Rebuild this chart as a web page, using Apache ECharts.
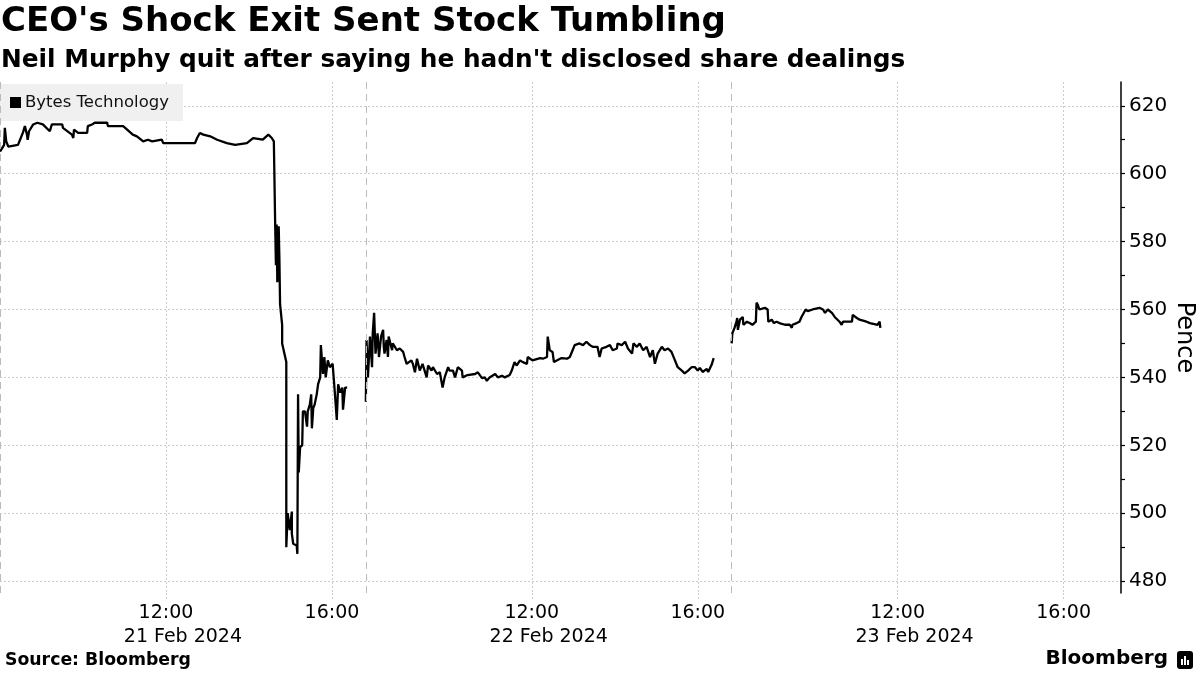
<!DOCTYPE html>
<html><head><meta charset="utf-8">
<script src="https://cdn.jsdelivr.net/npm/echarts@6/dist/echarts.min.js"></script>
<style>html,body{margin:0;padding:0;background:#fff}#c{width:1200px;height:675px}</style>
</head><body><div id="c"></div><script>
const titleText = "CEO's Shock Exit Sent Stock Tumbling";
const subtitleText = "Neil Murphy quit after saying he hadn't disclosed share dealings";
const sourceText = "Source: Bloomberg";
const seriesName = "Bytes Technology";
const yAxisName = "Pence";
const dayLabels = ["21 Feb 2024", "22 Feb 2024", "23 Feb 2024"];
// x values: minutes since 08:00 within each trading day; days are placed back to back
const dayLengthMin = 529;
const axisMaxMin = 1621;
const hourTickMinutes = [240, 480];
const hourTickLabels = ["12:00", "16:00"];
const yMin = 476.5, yMax = 627;
const yLabelValues = [480, 500, 520, 540, 560, 580, 600, 620];
const yTickValues = [480, 490, 500, 510, 520, 530, 540, 550, 560, 570, 580, 590, 600, 610, 620];

const day0Min = [0,6,7,9,12,26,29,33,36,39,40,42,48,54,62,72,75,90,91,104,106,107,113,126,127,133,137,155,156,178,181,192,198,207,214,220,234,236,282,285,289,294,304,314,328,340,357,366,380,388,393,396,398,399,400,401,403,404,405,408,408,414,414,414,416,419,422,422,424,429,430,431,432,434,437,438,441,444,445,448,450,451,453,455,458,460,463,464,467,469,471,474,477,481,484,487,489,492,495,496,499,502];
const day0Price = [606.5,608.5,613.5,609.5,608,608.5,610,612,614,611.5,610,612.5,614.5,615,614.5,612.5,614.5,614.5,613.5,611.5,610.5,613,612,612,614,614.5,615,615,614,614,613.5,611.5,611,609.5,610,609.5,610,609,609,610.5,612,611.5,611,610,609,608.5,609,610.5,610,611.5,610.5,609.5,584,573,585,568,584.5,575,561.5,555.5,550,544.5,542,490,500,495,500.5,494,491,490.5,488,535,512,519.5,520,530,530,525.5,530,532,535,525,531,532,535,538,540,549.5,541,546,540,545,543,544,536,527.5,538,535.5,537,530.5,537,537];

const day1Min = [0,1,1,3,6,9,10,12,14,17,19,22,25,26,27,30,32,33,38,39,45,49,54,56,59,66,68,71,74,78,82,88,90,95,97,103,107,111,114,119,121,126,129,133,139,140,147,158,162,168,172,175,179,187,191,197,201,208,211,215,218,223,227,233,234,241,252,256,262,263,266,270,272,276,283,291,295,299,302,309,314,319,324,328,335,338,341,348,353,357,363,364,370,375,379,385,387,392,396,401,406,411,415,418,422,428,432,437,442,447,451,457,461,466,471,476,480,483,487,493,495,500,503];
const day1Price = [532.8,549,551,540,552,543,553,559,547,553,546,552,554,549,547,551,546,552,548,550,548,548.5,547.5,546,544,545,544,541.5,545.5,542,544,540,543.5,542,543,541,541.5,537,540,543,542,542,540,543,542,540,540.7,541,541.5,539.8,540,539,540,541,540,540.5,540,540.7,542,544.5,543.5,545,544.5,544,546,545,545.7,545.5,546,552,548,547.5,544.5,545,545.7,545.5,546,548,549.5,550,549.5,550.5,549.5,549,549,546,548.5,549,549.5,548,548.5,550,549.5,550.5,548.5,547,550,549,550,548,549,546,548,544,547,549,548,548.5,547.5,545,543,542,541.2,542,543,543,542,542.8,541.6,542.5,541.6,543.7,545.7];

const day2Min = [0,1,4,7,8,9,12,16,17,22,26,30,35,36,38,40,48,52,53,58,61,65,69,77,84,87,88,94,98,101,103,107,110,117,127,132,135,139,145,149,156,159,161,174,175,181,185,195,200,211,214,215];
const day2Price = [550,553,554.5,556.4,557.5,554,557,557.8,555.5,556.4,556,555.5,556.4,562,561.3,560,560.5,560,556.4,557,556,556.4,556,555.5,555.5,554.6,555.5,556,556.4,557.8,557.5,560,559.5,560,560.5,560,559,560,559,557.8,556.4,555.5,556.4,556.4,558.4,557.5,557,556.4,556,555.5,556.4,554.6];

const days = [[day0Min, day0Price], [day1Min, day1Price], [day2Min, day2Price]];
const data = [];
days.forEach(([mins, prices], d) => {
  if (d > 0) data.push([d * dayLengthMin - 5, '-']);
  mins.forEach((m, i) => data.push([d * dayLengthMin + m, prices[i]]));
});
const hourTicks = [], hourLabelMap = {};
dayLabels.forEach((_, d) => hourTickMinutes.forEach((m, i) => {
  const v = d * dayLengthMin + m; hourTicks.push(v); hourLabelMap[v] = hourTickLabels[i];
}));
const dayCenters = [], dayLabelMap = {};
dayLabels.forEach((lab, d) => { const v = d * dayLengthMin + dayLengthMin / 2; dayCenters.push(v); dayLabelMap[v] = lab; });
const dayStarts = dayLabels.map((_, d) => ({ xAxis: d * dayLengthMin }));

const FONT = 'DejaVu Sans';
const chart = echarts.init(document.getElementById('c'), null, { renderer: 'canvas' });
chart.setOption({
  animation: false,
  backgroundColor: '#fff',
  textStyle: { fontFamily: FONT },
  title: [
    { text: titleText, left: 1, top: 5, padding: 0, textStyle: { fontFamily: FONT, fontSize: 34, fontWeight: 'bold', color: '#000' } },
    { text: subtitleText, left: 1, top: 48, padding: 0, textStyle: { fontFamily: FONT, fontSize: 24.8, fontWeight: 'bold', color: '#000' } },
    { text: sourceText, left: 5, top: 652, padding: 0, textStyle: { fontFamily: FONT, fontSize: 17.3, fontWeight: 'bold', color: '#000' } },
    { text: 'Bloomberg', right: 32, top: 649, padding: 0, textStyle: { fontFamily: FONT, fontSize: 20, fontWeight: 'bold', color: '#000' } }
  ],
  graphic: [
    { type: 'rect', right: 7, top: 651, shape: { width: 16, height: 18, r: 3 }, style: { fill: '#000' } },
    { type: 'rect', right: 17, top: 659, shape: { width: 2, height: 6 }, style: { fill: '#fff' } },
    { type: 'rect', right: 14, top: 656, shape: { width: 2, height: 9 }, style: { fill: '#fff' } },
    { type: 'rect', right: 11, top: 660, shape: { width: 2, height: 5 }, style: { fill: '#fff' } }
  ],
  legend: {
    left: 0, top: 84, padding: [10, 14, 10, 10], backgroundColor: '#f0f0f0',
    icon: 'rect', itemWidth: 11, itemHeight: 11, itemGap: 4,
    textStyle: { fontFamily: FONT, fontSize: 16.5, color: '#111', padding: [0, 0, 0, -1] },
    data: [seriesName]
  },
  grid: { left: 0, right: 79, top: 82, bottom: 82, containLabel: false, outerBoundsMode: 'none' },
  xAxis: [
    {
      type: 'value', min: 0, max: axisMaxMin, position: 'bottom',
      axisLine: { show: false, onZero: false },
      axisTick: { show: true, customValues: hourTicks, length: 8, lineStyle: { color: '#ccc', type: [2, 2] } },
      axisLabel: { customValues: hourTicks, formatter: v => hourLabelMap[v] || '', fontFamily: FONT, fontSize: 19, color: '#000', margin: 11 },
      splitLine: { show: true, lineStyle: { color: '#ccc', type: [2, 2] } }
    },
    {
      type: 'value', min: 0, max: axisMaxMin, position: 'bottom',
      axisLine: { show: false, onZero: false },
      axisTick: { show: false, customValues: dayCenters },
      axisLabel: { customValues: dayCenters, formatter: v => dayLabelMap[v] || '', fontFamily: FONT, fontSize: 19, color: '#000', margin: 35 },
      splitLine: { show: false }
    }
  ],
  yAxis: [
    {
      type: 'value', position: 'right', min: yMin, max: yMax,
      name: yAxisName, nameLocation: 'middle', nameRotate: -90, nameGap: 51, nameMoveOverlap: false,
      nameTextStyle: { fontFamily: FONT, fontSize: 24, color: '#000' },
      axisLine: { show: true, onZero: false, lineStyle: { color: '#000', width: 1.5 } },
      axisTick: { show: true, inside: false, length: 4, customValues: yTickValues, lineStyle: { color: '#000', width: 1.2 } },
      axisLabel: { customValues: yLabelValues, fontFamily: FONT, fontSize: 20, color: '#000', margin: 8 },
      splitLine: { show: false }
    },
    {
      type: 'value', position: 'right', min: yMin, max: yMax,
      axisLine: { show: false, onZero: false },
      axisTick: { show: false, customValues: yLabelValues },
      axisLabel: { show: false },
      splitLine: { show: true, lineStyle: { color: '#ccc', type: [2, 2] } }
    }
  ],
  series: [{
    name: seriesName, type: 'line', xAxisIndex: 0, yAxisIndex: 0,
    data: data, showSymbol: false, connectNulls: false,
    color: '#000', lineStyle: { color: '#000', width: 2.3 },
    markLine: {
      silent: true, symbol: ['none', 'none'], label: { show: false },
      lineStyle: { color: '#bbb', type: [7, 5], width: 1 },
      data: dayStarts
    }
  }]
});
</script></body></html>
